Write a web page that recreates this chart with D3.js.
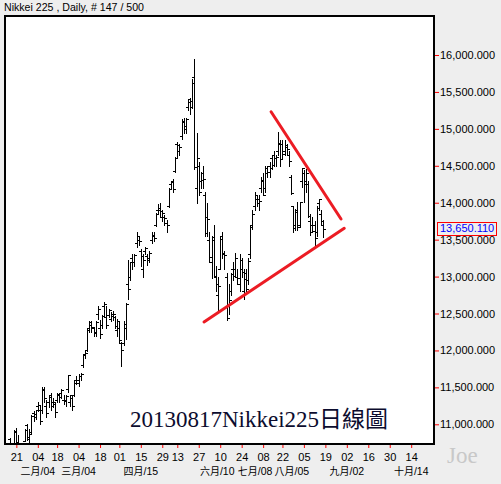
<!DOCTYPE html>
<html><head><meta charset="utf-8">
<script src="https://cdn.jsdelivr.net/npm/d3@7/dist/d3.min.js"></script>
<style>
html,body{margin:0;padding:0;background:#eeeeee;}
svg{display:block;}
</style></head><body>
<svg id="c" width="501" height="484"></svg>
<script>
// ---------------- DATA ----------------
const dates = ["01/16","01/17","01/18","01/21","01/22","01/23","01/24","01/25","01/28","01/29","01/30","01/31",
"02/01","02/04","02/05","02/06","02/07","02/08","02/12","02/13","02/14","02/15","02/18","02/19","02/20","02/21","02/22","02/25","02/26","02/27","02/28",
"03/01","03/04","03/05","03/06","03/07","03/08","03/11","03/12","03/13","03/14","03/15","03/18","03/19","03/21","03/22","03/25","03/26","03/27","03/28","03/29",
"04/01","04/02","04/03","04/04","04/05","04/08","04/09","04/10","04/11","04/12","04/15","04/16","04/17","04/18","04/19","04/22","04/23","04/24","04/25","04/26","04/30",
"05/01","05/02","05/07","05/08","05/09","05/10","05/13","05/14","05/15","05/16","05/17","05/20","05/21","05/22","05/23","05/24","05/27","05/28","05/29","05/30","05/31",
"06/03","06/04","06/05","06/06","06/07","06/10","06/11","06/12","06/13","06/14","06/17","06/18","06/19","06/20","06/21","06/24","06/25","06/26","06/27","06/28",
"07/01","07/02","07/03","07/04","07/05","07/08","07/09","07/10","07/11","07/12","07/16","07/17","07/18","07/19","07/22","07/23","07/24","07/25","07/26","07/29","07/30","07/31",
"08/01","08/02","08/05","08/06","08/07","08/08","08/09","08/12","08/13","08/14","08/15","08/16"];

const openV = [10800,10580,10700,10900,10760,10650,10560,10780,10990,10800,10900,11150,
11100,11250,11200,11200,11480,11250,11300,11400,11300,11270,11330,11390,11420,11330,11330,11480,11300,11350,11400,
11600,11560,11650,11800,11950,12000,12300,12380,12300,12250,12500,12300,12350,12600,12450,12480,12420,12500,12450,12280,
12300,12100,12100,12300,12900,13000,13250,13200,13450,13500,13350,13100,13350,13280,13250,13500,13550,13700,13900,13900,13800,
13800,13720,13950,14250,14300,14430,14800,14700,14900,15100,15000,15300,15400,15300,15700,14200,14500,14300,14400,14100,13800,
13500,13200,13500,13000,12750,13100,13550,13300,13000,12600,12800,13100,13100,13000,12900,13100,12800,13050,12950,13300,
13700,13950,14050,14000,14200,14300,14200,14400,14500,14600,14650,14600,14700,14800,14800,14700,14750,14650,14350,13950,13700,13900,
13700,14300,14400,14300,14250,13750,13700,13700,13600,14000,13850,13700];

const highV = [10820,10650,10920,10954,10860,10690,10700,10930,11005,10930,11120,11180,
11200,11300,11261,11500,11500,11330,11400,11420,11350,11300,11420,11400,11480,11400,11400,11662,11400,11400,11580,
11650,11680,11700,11950,12000,12300,12400,12400,12320,12400,12600,12410,12480,12650,12600,12560,12520,12530,12470,12420,
12400,12118,12400,12640,13225,13200,13300,13300,13600,13540,13380,13300,13400,13300,13350,13600,13600,13860,13980,13990,13900,
13830,13760,14200,14300,14320,14620,14820,14800,15130,15150,15150,15400,15420,15680,15942,14940,14550,14420,14500,14150,14000,
13600,13550,13700,13150,13000,13530,13600,13350,13050,12900,13050,13200,13320,13100,13300,13250,13100,13100,13250,13700,
13900,14150,14100,14100,14350,14400,14500,14500,14550,14650,14700,14650,14953,14850,14850,14850,14800,14700,14380,13955,13915,14015,
14014,14466,14443,14450,14300,13850,13800,13750,13950,14050,13900,13766];

const lowV = [10577,10550,10690,10720,10620,10460,10530,10770,10790,10740,10880,11050,
11070,11180,11000,11150,11300,11100,11230,11200,11240,11100,11300,11300,11360,11280,11250,11440,11250,11200,11380,
11550,11520,11600,11780,11900,11990,12250,12250,12200,12200,12420,12170,12300,12460,12300,12450,12400,12410,12300,12200,
12100,11790,12070,12150,12700,12950,13100,13150,13400,13430,13150,13000,13300,13160,13200,13450,13480,13680,13850,13800,13750,
13700,13600,13946,14180,14150,14410,14600,14650,14860,14950,14950,15250,15200,15280,14458,14000,14100,14200,14200,13550,13550,
13200,12980,13000,12800,12550,13100,13250,13100,12415,12500,12750,12950,13000,12900,12800,13000,12700,12800,12900,13250,
13650,13900,13950,13900,14150,14100,14150,14350,14350,14450,14500,14500,14650,14500,14600,14650,14650,14500,14120,13608,13630,13630,
13675,14217,14014,14150,13800,13563,13600,13414,13550,13900,13700,13532];

const closeV = [10600,10609,10913,10747,10709,10486,10620,10926,10824,10866,11113,11138,
11191,11260,11046,11463,11357,11153,11369,11251,11307,11173,11407,11372,11468,11309,11385,11662,11399,11254,11559,
11606,11652,11683,11932,11968,12283,12349,12314,12239,12381,12560,12220,12468,12635,12338,12546,12471,12493,12336,12397,
12135,12003,12362,12634,12833,13192,13192,13288,13549,13485,13275,13221,13382,13220,13316,13568,13529,13843,13926,13884,13860,
13799,13694,14180,14285,14191,14607,14782,14758,15096,15037,15138,15360,15381,15627,14483,14612,14142,14311,14326,13589,13774,
13261,13533,13014,12904,12877,13514,13317,13289,12445,12686,13033,13007,13245,12986,13230,13062,12969,12834,13213,13677,
13852,14099,14055,14018,14309,14109,14473,14416,14472,14506,14599,14615,14808,14589,14658,14778,14731,14562,14129,13661,13869,13668,
14006,14466,14258,14401,13825,13605,13615,13520,13925,14050,13752,13650.11];

const yTickValues = [11000,11500,12000,12500,13000,13500,14000,14500,15000,15500,16000];
// x ticks: trading-day index (future indices continue on weekdays)
const xTickIdx = [3,13,22,32,42,51,61,71,78,88,98,108,118,127,137,147,157,167,177,187];
const xTickLabels = ["21","04","18","04","18","01","15","29","13","27","10","24","08","22","05","19","02","16","30","14"];
const monthIdx = [13,32,61,98,118,137,157,187];
const monthNames = ["二月","三月","四月","六月","七月","八月","九月","十月"];
const monthDays = ["/04","/04","/15","/10","/08","/05","/02","/14"];
const lastValue = 13650.11;
// trend lines: [index, value]
const upperTrend = [[121.7,15232],[154.3,13780]];
const lowerTrend = [[90.45,12385],[155.8,13654]];
const titleText = "Nikkei 225 , Daily, # 147 / 500";
const watermark = "20130817Nikkei225日線圖";
const signature = "Joe";

// ---------------- LAYOUT ----------------
const svg = d3.select("#c");
const plot = {left:5, top:16, right:434, bottom:444};
const step = 2.146, x0 = 9.9;
const x = d3.scaleLinear().domain([0,1]).range([x0, x0+step]);
const y = d3.scaleLinear().domain([11000,16000]).range([424.3,55]);

svg.append("rect").attr("width",501).attr("height",484).attr("fill","#eeeeee");
svg.append("rect").attr("x",plot.left).attr("y",plot.top)
  .attr("width",plot.right-plot.left).attr("height",plot.bottom-plot.top).attr("fill","#ffffff");

svg.append("defs").append("clipPath").attr("id","clip").append("rect")
  .attr("x",plot.left+1).attr("y",plot.top+1).attr("width",plot.right-plot.left-2).attr("height",plot.bottom-plot.top-2);

// watermark
svg.append("text").attr("x",130).attr("y",427)
  .attr("font-family","'Liberation Serif','Noto Sans CJK TC',serif").attr("font-size",23)
  .attr("fill","#0c0c2e").text(watermark);

// bars
const g = svg.append("g").attr("clip-path","url(#clip)").attr("shape-rendering","crispEdges")
  .attr("stroke","#000").attr("stroke-width",1);
const px = i => Math.round(x(i)) + 0.5;
const py = v => Math.round(y(v)) + 0.5;
const bars = g.selectAll("g.bar").data(d3.range(dates.length)).join("g").attr("class","bar");
bars.append("line").attr("x1",px).attr("x2",px)
  .attr("y1",i=>Math.round(y(highV[i]))).attr("y2",i=>Math.round(y(lowV[i]))+1);
bars.append("line").attr("x1",i=>px(i)-2.5).attr("x2",i=>px(i))
  .attr("y1",i=>py(openV[i])).attr("y2",i=>py(openV[i]));
bars.append("line").attr("x1",i=>px(i)).attr("x2",i=>px(i)+2.5)
  .attr("y1",i=>py(closeV[i])).attr("y2",i=>py(closeV[i]));

// trend lines
const tl = d3.line().x(d=>x(d[0])).y(d=>y(d[1]));
[upperTrend, lowerTrend].forEach(t=>{
  svg.append("path").attr("d",tl(t)).attr("fill","none")
    .attr("stroke","#ec1c24").attr("stroke-width",3).attr("stroke-linecap","round");
});

// frame
svg.append("rect").attr("x",plot.left).attr("y",plot.top)
  .attr("width",plot.right-plot.left).attr("height",plot.bottom-plot.top)
  .attr("fill","none").attr("stroke","#000").attr("stroke-width",2);

// right axis
const yAxis = d3.axisRight(y).tickValues(yTickValues).tickSize(4).tickPadding(1)
  .tickFormat(d3.format(",.3f"));
const ya = svg.append("g").attr("transform",`translate(${plot.right+1},0)`).call(yAxis);
ya.select(".domain").remove();
ya.selectAll(".tick line").attr("stroke","#ff0000");
ya.selectAll(".tick text").attr("font-family","'Liberation Sans',Arial,sans-serif").attr("font-size",11).attr("fill","#000");

// bottom axis
const xAxis = d3.axisBottom(x).tickValues(xTickIdx).tickSize(3).tickPadding(5)
  .tickFormat((d,i)=>xTickLabels[i]);
const xa = svg.append("g").attr("transform",`translate(0,${plot.bottom+1})`).call(xAxis);
xa.select(".domain").remove();
xa.selectAll(".tick line").attr("stroke","#ff0000");
xa.selectAll(".tick text").attr("font-family","'Liberation Sans',Arial,sans-serif").attr("font-size",11).attr("fill","#000");

// month labels (second row)
const monthShift = [0,0,0,-3,-8,-12,0,0];
const ml = svg.append("g").selectAll("text").data(monthNames).join("text")
  .attr("x",(d,i)=>x(monthIdx[i])+monthShift[i]).attr("y",475)
  .attr("text-anchor","middle")
  .attr("font-family","'Liberation Sans',Arial,sans-serif").attr("font-size",10.5)
  .attr("fill","#000");
ml.append("tspan").attr("font-family","'Noto Sans CJK TC',sans-serif").attr("font-size",10).text(d=>d);
ml.append("tspan").text((d,i)=>monthDays[i]);

// last value box
const ly = y(lastValue);
svg.append("rect").attr("x",437.5).attr("y",Math.round(ly)-6.5).attr("width",59).attr("height",13)
  .attr("fill","none").attr("stroke","#ff0000").attr("stroke-width",1);
svg.append("text").attr("x",440).attr("y",ly).attr("dy","0.35em")
  .attr("font-family","'Liberation Sans',Arial,sans-serif").attr("font-size",11)
  .attr("fill","#0000ff").text(d3.format(",.3f")(lastValue));

// title
svg.append("text").attr("x",4).attr("y",11)
  .attr("font-family","'Liberation Sans',Arial,sans-serif").attr("font-size",10.6)
  .attr("fill","#000").text(titleText);

// signature
svg.append("text").attr("x",447).attr("y",463)
  .attr("font-family","'Liberation Serif',serif").attr("font-size",23)
  .attr("fill","#c8c8c8").text(signature);
</script>
</body></html>
